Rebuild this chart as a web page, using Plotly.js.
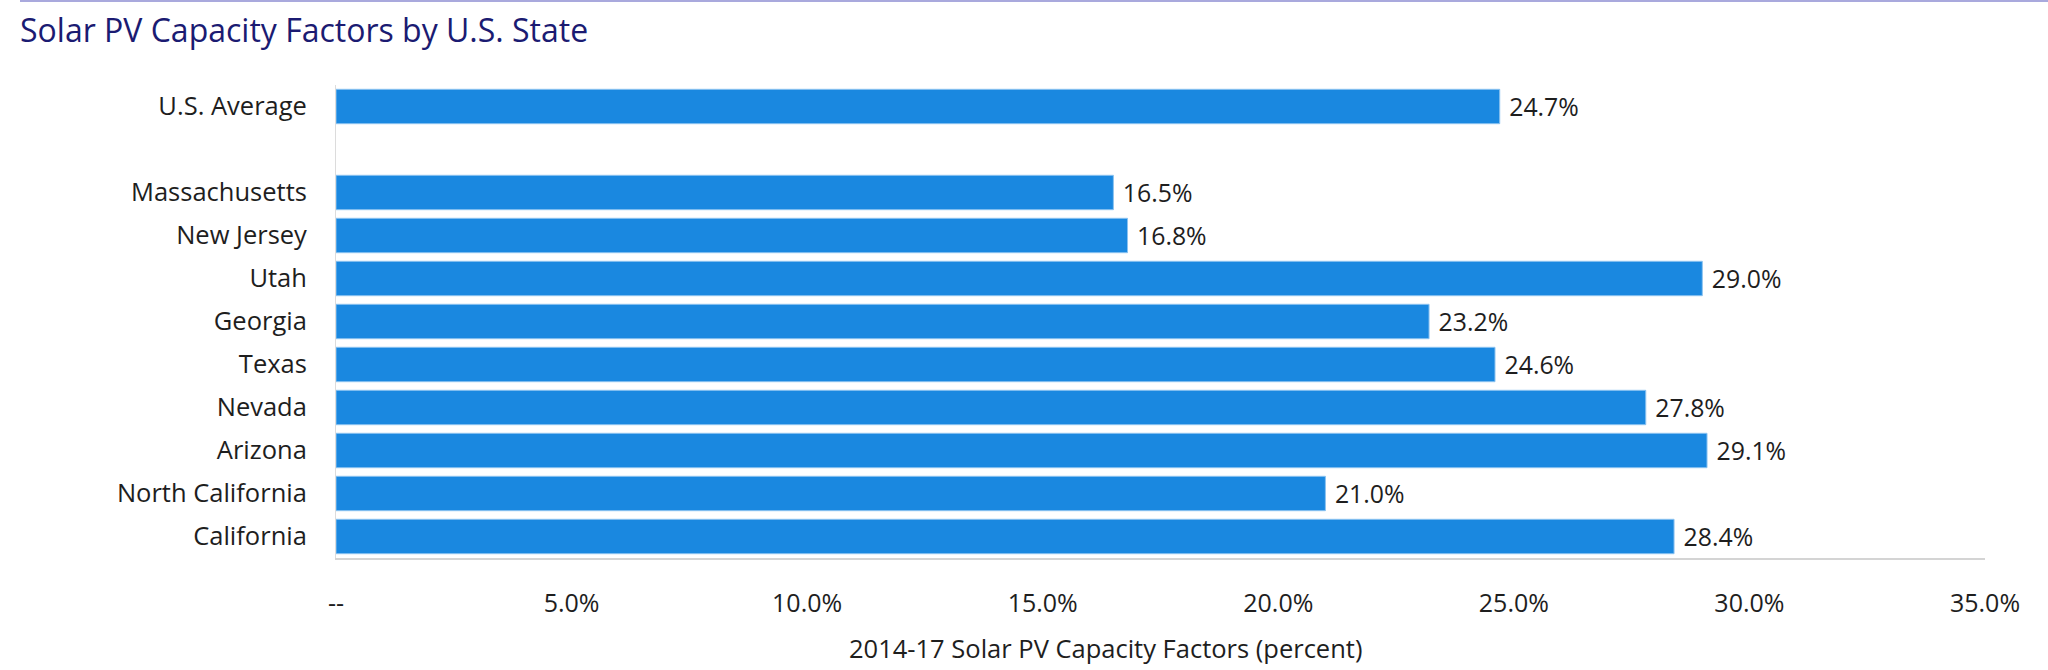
<!DOCTYPE html>
<html>
<head>
<meta charset="utf-8">
<script src="https://cdn.plot.ly/plotly-3.0.1.min.js"></script>
<style>
  html, body { margin: 0; padding: 0; background: #ffffff; }
  #wrap { position: relative; width: 2048px; height: 670px; }
  #topline { position: absolute; left: 20px; right: 0; top: 0; height: 2px; background: #a9a9dd; z-index: 2; }
  #chart { width: 2048px; height: 670px; }
</style>
</head>
<body>
<div id="wrap">
  <div id="topline"></div>
  <div id="chart"></div>
</div>
<script>
// Categories, top to bottom (the blank entry is the spacer row)
const categories = ["U.S. Average", " ", "Massachusetts", "New Jersey", "Utah", "Georgia", "Texas", "Nevada", "Arizona", "North California", "California"];
// Capacity factor values (percent); null for the spacer row
const capacityFactors = [24.7, null, 16.5, 16.8, 29.0, 23.2, 24.6, 27.8, 29.1, 21.0, 28.4];
// X axis ticks
const xTickValues = [0, 5, 10, 15, 20, 25, 30, 35];
const xTickLabels = ["--", "5.0%", "10.0%", "15.0%", "20.0%", "25.0%", "30.0%", "35.0%"];

const chartTitle = "Solar PV Capacity Factors by U.S. State";
const xAxisTitle = "2014-17 Solar PV Capacity Factors (percent)";

const FONT = "'Open Sans', 'Noto Sans', sans-serif";

const trace = {
  type: "bar",
  orientation: "h",
  y: categories,
  x: capacityFactors,
  marker: { color: "#1a88e0", line: { color: "#8cc3f0", width: 1 } },
  text: capacityFactors.map(v => v === null ? "" : "\u00A0" + v.toFixed(1) + "%"),
  textposition: "outside",
  textfont: { family: FONT, size: 26, color: "#1e1e1e" },
  cliponaxis: false,
  hoverinfo: "skip"
};

const layout = {
  width: 2048,
  height: 670,
  paper_bgcolor: "#ffffff",
  plot_bgcolor: "#ffffff",
  margin: { l: 336, r: 63, t: 85, b: 112, pad: 0 },
  showlegend: false,
  bargap: 0.2,
  font: { family: FONT, color: "#1e1e1e" },
  title: {
    text: chartTitle,
    font: { family: FONT, size: 32, color: "#1b1b72" },
    x: 20 / 2048, xanchor: "left", xref: "container",
    y: 1 - 31 / 670, yanchor: "middle", yref: "container"
  },
  xaxis: {
    range: [0, 35],
    tickvals: xTickValues,
    ticktext: xTickLabels,
    showgrid: false,
    zeroline: false,
    showline: true,
    linecolor: "#d4d4d4",
    linewidth: 2,
    ticks: "",
    ticklabelstandoff: 22,
    tickfont: { family: FONT, size: 25, color: "#1e1e1e" },
    fixedrange: true
  },
  yaxis: {
    type: "category",
    categoryorder: "array",
    categoryarray: categories,
    autorange: "reversed",
    showgrid: false,
    zeroline: false,
    showline: true,
    linecolor: "#dcdcdc",
    linewidth: 1,
    ticks: "",
    ticklabelstandoff: 23,
    tickfont: { family: FONT, size: 25.5, color: "#1e1e1e" },
    fixedrange: true
  },
  annotations: [{
    text: xAxisTitle,
    xref: "paper", yref: "paper",
    x: (1105.7 - 336) / 1649, y: (558 - 648) / 473,
    xanchor: "center", yanchor: "middle",
    showarrow: false,
    font: { family: FONT, size: 25.5, color: "#1e1e1e" }
  }]
};

Plotly.newPlot("chart", [trace], layout, { displayModeBar: false, staticPlot: true });
</script>
</body>
</html>
